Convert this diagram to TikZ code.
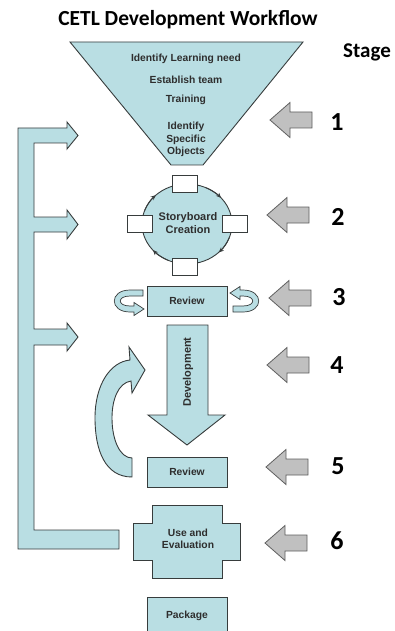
\documentclass[tikz,border=0pt]{standalone}
\usepackage{fontspec}
\setmainfont{Liberation Sans}
\newfontfamily\titlefont{Carlito}
\usetikzlibrary{arrows.meta}
\definecolor{fillblue}{RGB}{185,222,227}
\definecolor{edgecol}{RGB}{55,60,60}
\definecolor{grayfill}{RGB}{192,192,192}
\definecolor{grayedge}{RGB}{95,95,95}
\tikzset{
  blueshape/.style={fill=fillblue, draw=edgecol, line width=0.9pt, line join=miter},
  whitebox/.style={fill=white, draw=edgecol, line width=0.8pt},
  stagearrow/.style={fill=grayfill, draw=grayedge, line width=0.8pt, line join=miter},
  lbl/.style={font=\fontsize{10.3}{12}\selectfont\bfseries, text=black!82, align=center, inner sep=0pt},
  numlbl/.style={font=\titlefont\fontsize{26}{28}\selectfont\bfseries, inner sep=0pt},
  headlbl/.style={font=\titlefont\fontsize{21.5}{24}\selectfont\bfseries, inner sep=0pt},
  circtip/.style={draw=edgecol, line width=0.9pt, -{Stealth[length=5pt,width=4.5pt]}},
  stagearr/.pic={\draw[stagearrow] (0,0) -- (20,-17.5) -- (20,-8) -- (42,-8) -- (42,8) -- (20,8) -- (20,17.5) -- cycle;}
}
\begin{document}
\begin{tikzpicture}[x=1pt,y=-1pt]
\useasboundingbox (0,0) rectangle (395,631);

% title and stage
\node[headlbl] (title) at (188,20) {CETL Development Workflow};
\node[font=\titlefont\fontsize{21}{24}\selectfont\bfseries, inner sep=0pt] (stage) at (367,52) {Stage};

% feedback bracket
\draw[blueshape] (18,549) -- (18,128) -- (67,128) -- (67,122) -- (78,135.5) -- (67,149) -- (67,143)
  -- (34,143) -- (34,217) -- (67,217) -- (67,210) -- (78,224.5) -- (67,239) -- (67,232)
  -- (34,232) -- (34,329) -- (67,329) -- (67,323) -- (78,337) -- (67,351) -- (67,345)
  -- (34,345) -- (34,530) -- (119,530) -- (119,549) -- cycle;

% funnel (stage 1)
\draw[blueshape] (70,42) -- (303,42) -- (203,165) -- (171,165) -- cycle;
\node[lbl] (f1) at (186,59) {Identify Learning need};
\node[lbl] (f2) at (186,80) {Establish team};
\node[lbl] (f3) at (186,100) {Training};
\node[lbl, font=\fontsize{10.3}{12}\selectfont\bfseries] (f4) at (186,139.5) {Identify\\[0.5pt]Specific\\[0.5pt]Objects};

% storyboard (stage 2)
\draw[blueshape] (187,224) ellipse [x radius=45, y radius=40];
\draw[circtip] (187,224) ++(200:45 and 40) arc[start angle=200, end angle=226, x radius=45, y radius=40];
\draw[circtip] (187,224) ++(295:45 and 40) arc[start angle=295, end angle=319, x radius=45, y radius=40];
\draw[circtip] (187,224) ++(20:45 and 40) arc[start angle=20, end angle=45, x radius=45, y radius=40];
\draw[circtip] (187,224) ++(115:45 and 40) arc[start angle=115, end angle=139, x radius=45, y radius=40];
\draw[whitebox] (172,175) rectangle (197,192);
\draw[whitebox] (127,215) rectangle (152,232);
\draw[whitebox] (222,215) rectangle (247,232);
\draw[whitebox] (172,258) rectangle (197,275);
\node[lbl, font=\fontsize{11}{13}\selectfont\bfseries] (story) at (188,223) {Storyboard\\Creation};

% review 1 (stage 3)
\node[blueshape, lbl, minimum width=80pt, minimum height=30pt] (rev1) at (187,301) {Review};
\draw[blueshape, line width=0.7pt] (143,290) -- (130,290) .. controls (109,290) and (109,312) .. (130,312) -- (134,312)
  -- (134,315.5) -- (144,309) -- (134,302.5) -- (134,306) -- (130,306) .. controls (117,306) and (117,296) .. (130,296)
  -- (143,296) -- cycle;
\draw[blueshape, line width=0.7pt] (233,306) -- (243,306) .. controls (256,306) and (256,296) .. (243,296) -- (240,296)
  -- (240,299.5) -- (230,293) -- (240,286.5) -- (240,290) -- (243,290) .. controls (264,290) and (264,312) .. (243,312)
  -- (233,312) -- cycle;

% development (stage 4)
\draw[blueshape] (167,325) -- (208,325) -- (208,415) -- (225,415) -- (187,445) -- (148,415) -- (167,415) -- cycle;
\node[lbl, rotate=90, font=\fontsize{11}{13}\selectfont\bfseries] (dev) at (188,372) {Development};
\draw[blueshape] (132,477) .. controls (105,477) and (95,450) .. (95,418) .. controls (95,385) and (110,362) .. (130,360)
  -- (129,347) -- (145,370) -- (132,393) -- (131,381) .. controls (118,383) and (112,400) .. (112,418)
  .. controls (112,440) and (120,458) .. (132,458) -- cycle;

% review 2 (stage 5)
\node[blueshape, lbl, minimum width=80pt, minimum height=30pt] (rev2) at (187,472) {Review};

% use and evaluation (stage 6)
\draw[blueshape] (152,505) -- (222,505) -- (222,523) -- (240,523) -- (240,560) -- (222,560) -- (222,578)
  -- (152,578) -- (152,560) -- (133,560) -- (133,523) -- (152,523) -- cycle;
\node[lbl] (use) at (188,539) {Use and\\Evaluation};

% package
\draw[blueshape] (147,640) -- (147,597) -- (227,597) -- (227,640);
\node[lbl] (pack) at (187,616) {Package};

% stage arrows and numbers
\pic (a1) at (270,120) {stagearr};
\pic (a2) at (267,215) {stagearr};
\pic (a3) at (269,298) {stagearr};
\pic (a4) at (267,365) {stagearr};
\pic (a5) at (266,467) {stagearr};
\pic (a6) at (265,543) {stagearr};
\node[numlbl] (n1) at (337,122) {1};
\node[numlbl] (n2) at (338,217) {2};
\node[numlbl] (n3) at (339,297) {3};
\node[numlbl] (n4) at (337,365) {4};
\node[numlbl] (n5) at (338,466) {5};
\node[numlbl] (n6) at (337,541) {6};
\end{tikzpicture}
\end{document}
